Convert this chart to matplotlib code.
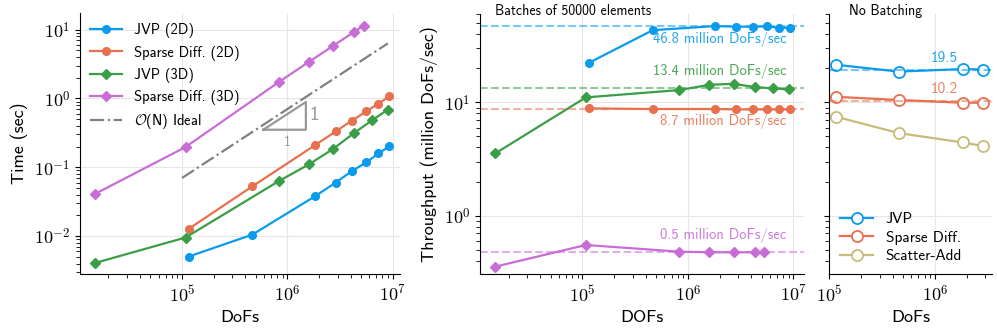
import matplotlib
matplotlib.use("Agg")
import matplotlib.pyplot as plt
from matplotlib.ticker import FuncFormatter, LogLocator
import numpy as np

plt.rcParams['font.family'] = ['cmss10', 'DejaVu Sans']
plt.rcParams['mathtext.fontset'] = 'cm'
plt.rcParams['axes.unicode_minus'] = False

# colours
c_jvp = '#0a9bee'
c_sp = '#e8704e'
c_jvp3 = '#3a9e47'
c_sp3 = '#c96dd6'
c_sa = '#c6bb7a'
c_ideal = '#808080'

# timing data (left panel)
dofs_2d = [1.16e5, 4.64e5, 1.82e6, 2.88e6, 4.1e6, 5.63e6, 7.33e6, 9.3e6]
dofs_3d = [1.5e4, 1.08e5, 8.3e5, 1.6e6, 2.71e6, 4.31e6, 6.43e6, 9.0e6]
dofs_3d_sp = [1.5e4, 1.08e5, 8.3e5, 1.6e6, 2.71e6, 4.31e6, 5.3e6]
time_jvp_2d = [5.06e-3, 1.05e-2, 0.0377, 0.060, 0.088, 0.118, 0.159, 0.201]
time_sp_2d = [0.0128, 0.0527, 0.208, 0.332, 0.475, 0.649, 0.839, 1.07]
time_jvp_3d = [4.09e-3, 9.55e-3, 0.063, 0.110, 0.184, 0.315, 0.485, 0.687]
time_sp_3d = [0.0412, 0.197, 1.73, 3.39, 5.78, 9.25, 11.4]
ideal_x = [1e5, 9e6]
ideal_y = [0.07, 6.3]

# batched throughput (middle panel)
tp_jvp_2d = [22.4, 43.4, 47.2, 46.6, 46.6, 46.9, 45.6, 45.6]
tp_sp_2d = [8.85, 8.74, 8.74, 8.67, 8.67, 8.67, 8.67, 8.67]
tp_jvp_3d = [3.55, 11.07, 12.85, 14.3, 14.6, 13.65, 13.3, 13.0]
tp_sp_3d = [0.355, 0.551, 0.481, 0.475, 0.475, 0.475, 0.475]
avg_batched = [46.8, 8.7, 13.4, 0.474]
avg_labels = ['46.8 million DoFs/sec', '8.7 million DoFs/sec',
              '13.4 million DoFs/sec', '0.5 million DoFs/sec']

# unbatched throughput (right panel)
dofs_nb = [1.16e5, 4.56e5, 1.83e6, 2.86e6]
nb_jvp = [21.5, 18.7, 19.7, 19.5]
nb_sp = [11.2, 10.5, 9.93, 9.93]
nb_sa = [7.48, 5.36, 4.43, 4.12]
avg_nb = [19.5, 10.2]


def pow_fmt(v, pos):
    e = int(round(np.log10(v)))
    if e < 0:
        return r'$\mathsf{10}^{-\mathsf{%d}}$' % (-e)
    return r'$\mathsf{10}^{\mathsf{%d}}$' % e


fig = plt.figure(figsize=(9.97, 3.32), dpi=100)
ax1 = fig.add_axes([0.0802, 0.1747, 0.321, 0.786])
ax2 = fig.add_axes([0.4814, 0.1747, 0.325, 0.783])
ax3 = fig.add_axes([0.8315, 0.1747, 0.1635, 0.783], sharey=ax2)

for ax in (ax1, ax2, ax3):
    ax.set_xscale('log')
    ax.set_yscale('log')
    for a in (ax.xaxis, ax.yaxis):
        a.set_major_locator(LogLocator(base=10))
        a.set_major_formatter(FuncFormatter(pow_fmt))
    ax.spines['top'].set_visible(False)
    ax.spines['right'].set_visible(False)
    ax.grid(True, which='major', color='#e6e6e6', lw=0.8)
    ax.set_axisbelow(True)
    ax.tick_params(which='major', labelsize=13, length=3.5)
    ax.tick_params(which='minor', length=3)

lw = 1.6
# left panel
ax1.plot(dofs_2d, time_jvp_2d, '-o', color=c_jvp, lw=lw, ms=5.5, label='JVP (2D)')
ax1.plot(dofs_2d, time_sp_2d, '-o', color=c_sp, lw=lw, ms=5.5, label='Sparse Diff. (2D)')
ax1.plot(dofs_3d, time_jvp_3d, '-D', color=c_jvp3, lw=lw, ms=5, label='JVP (3D)')
ax1.plot(dofs_3d_sp, time_sp_3d, '-D', color=c_sp3, lw=lw, ms=5, label='Sparse Diff. (3D)')
ax1.plot(ideal_x, ideal_y, '-.', color=c_ideal, lw=lw, label=r'$\mathcal{O}$(N) Ideal')
ax1.plot([5.9e5, 1.5e6, 1.5e6, 5.9e5], [0.351, 0.351, 0.887, 0.351], color='#999999', lw=1.6)
ax1.text(1.62e6, 0.58, '1', color='#999999', fontsize=14, va='center')
ax1.text(1.0e6, 0.235, '1', color='#999999', fontsize=10, va='center', ha='center')
ax1.set_xlim(10**4.03, 10**7.07)
ax1.set_ylim(10**-2.55, 10**1.24)
ax1.set_xlabel('DoFs', fontsize=13)
ax1.set_ylabel('Time (sec)', fontsize=13)
ax1.legend(loc='upper left', frameon=False, fontsize=10.5, handlelength=2.2,
           borderaxespad=0.3, labelspacing=0.5)

# middle panel
ax2.plot(dofs_2d, tp_jvp_2d, '-o', color=c_jvp, lw=lw, ms=5.5)
ax2.plot(dofs_2d, tp_sp_2d, '-o', color=c_sp, lw=lw, ms=5.5)
ax2.plot(dofs_3d, tp_jvp_3d, '-D', color=c_jvp3, lw=lw, ms=5)
ax2.plot(dofs_3d_sp, tp_sp_3d, '-D', color=c_sp3, lw=lw, ms=5)
label_y = [36.0, 6.74, 18.6, 0.667]
for v, lab, c, ly in zip(avg_batched, avg_labels, [c_jvp, c_sp, c_jvp3, c_sp3], label_y):
    ax2.axhline(v, color=c, ls='--', lw=1.5, alpha=0.55)
    ax2.text(8.6e6, ly, lab, color=c, fontsize=10.5, ha='right', va='center', alpha=0.9)
ax2.set_xlim(10**4.03, 10**7.1)
ax2.set_ylim(10**-0.515, 10**1.78)
ax2.set_xlabel('DOFs', fontsize=13)
ax2.set_ylabel('Throughput (million DoFs/sec)', fontsize=13)
ax2.text(0.045, 1.012, 'Batches of 50000 elements', transform=ax2.transAxes,
         fontsize=10, va='center')

# right panel
ax3.plot(dofs_nb, nb_jvp, '-o', color=c_jvp, lw=lw, ms=8, mfc='white', mew=1.3, label='JVP')
ax3.plot(dofs_nb, nb_sp, '-o', color=c_sp, lw=lw, ms=8, mfc='white', mew=1.3, label='Sparse Diff.')
ax3.plot(dofs_nb, nb_sa, '-o', color=c_sa, lw=lw, ms=8, mfc='white', mew=1.3, label='Scatter-Add')
for v, c, ly in zip(avg_nb, [c_jvp, c_sp], [24.9, 13.1]):
    ax3.axhline(v, color=c, ls='--', lw=1.5, alpha=0.55)
    ax3.text(1.22e6, ly, f'{v}', color=c, fontsize=11, ha='center', va='center', alpha=0.9)
ax3.set_xlim(1e5, 10**6.54)
ax3.tick_params(labelleft=False)
ax3.set_xlabel('DoFs', fontsize=13)
ax3.text(0.12, 1.012, 'No Batching', transform=ax3.transAxes, fontsize=10, va='center')
ax3.legend(loc='lower left', frameon=False, fontsize=11, handlelength=2.2,
           borderaxespad=0.3, labelspacing=0.3)

fig.savefig('out.png', dpi=100)
